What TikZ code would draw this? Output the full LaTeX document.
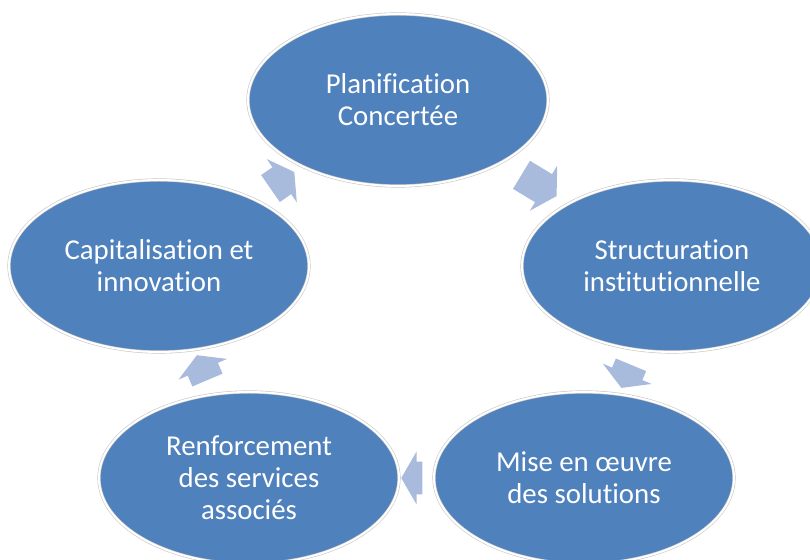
\documentclass[tikz,border=0pt]{standalone}
\usepackage{fontspec}
\setmainfont{Carlito}[Ligatures=NoCommon]
\usetikzlibrary{shapes.geometric, shapes.arrows, calc}
\definecolor{stageblue}{RGB}{79,129,189}
\definecolor{flowblue}{RGB}{168,187,221}

\begin{document}
\begin{tikzpicture}[x = 0.5pt, y = -0.5pt,
  stage/.style = {ellipse, fill=stageblue, draw=black!22, line width=0.3pt, double=white, double distance=1pt,
    minimum width=150pt, minimum height=86pt, inner sep=0pt, text=white, align=center,
    font=\fontsize{14.4pt}{16pt}\selectfont},
  flow/.style = {single arrow, fill=flowblue, inner xsep=0pt, inner ysep=8pt,
    single arrow head extend=5pt, single arrow tip angle=120, minimum height=#1}]

\useasboundingbox (0, 0) rectangle (810, 560);
\clip (0, 0) rectangle (810, 560);

\node[stage] (plan) at (398, 100) {Planification\\Concertée};
\node[stage] (struct) at (672, 266) {Structuration\\institutionnelle};
\node[stage] (mise) at (584, 478) {Mise en œuvre\\des solutions};
\node[stage] (renf) at (249, 478) {Renforcement\\des services\\associés};
\node[stage] (capi) at (159, 266) {Capitalisation et\\innovation};

\path let \p1 = ($(struct)-(plan)$), \n1 = {atan2(\y1, \x1)} in
  node[flow=20.5pt, rotate=\n1] (f1) at ($(plan)!0.5!(struct)$) {};
\path let \p1 = ($(mise)-(struct)$), \n1 = {atan2(\y1, \x1)} in
  node[flow=12.5pt, rotate=\n1] (f2) at ($(struct)!0.5!(mise)$) {};
\path let \p1 = ($(renf)-(mise)$), \n1 = {atan2(\y1, \x1)} in
  node[flow=10.5pt, rotate=\n1] (f3) at ($(mise)!0.5!(renf)$) {};
\path let \p1 = ($(capi)-(renf)$), \n1 = {atan2(\y1, \x1)} in
  node[flow=13.5pt, rotate=\n1] (f4) at ($(renf)!0.5!(capi)$) {};
\path let \p1 = ($(plan)-(capi)$), \n1 = {atan2(\y1, \x1)} in
  node[flow=14.5pt, rotate=\n1] (f5) at ($(capi)!0.5!(plan)$) {};

\end{tikzpicture}
\end{document}
